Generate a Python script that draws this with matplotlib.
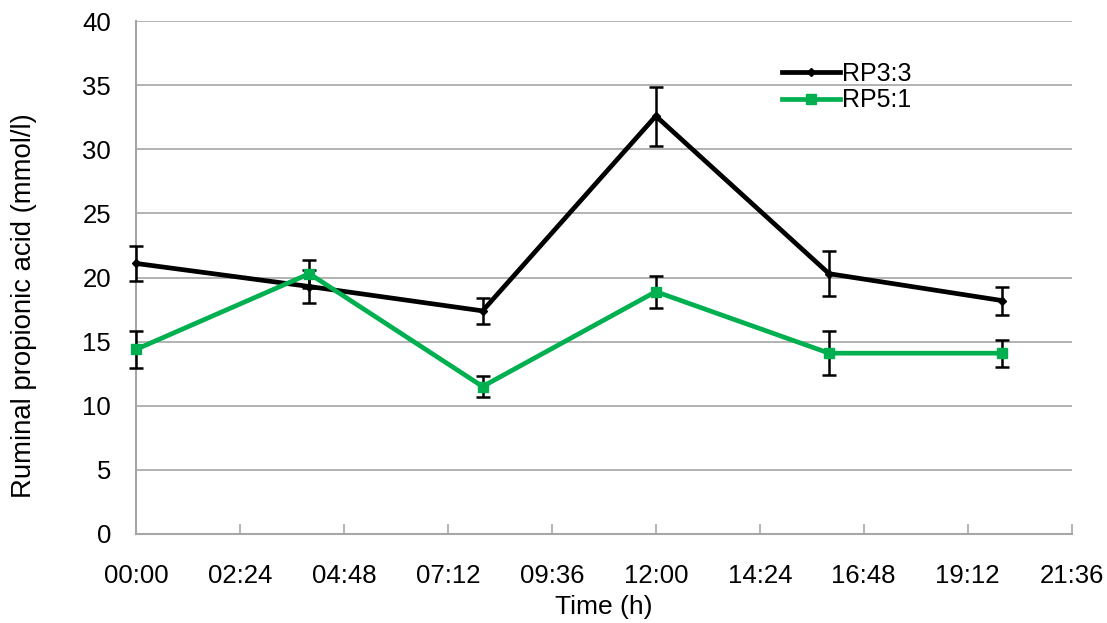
import matplotlib
matplotlib.use('Agg')
import matplotlib.pyplot as plt
from matplotlib.ticker import FixedLocator

plt.rcParams['font.family'] = ['Liberation Sans', 'DejaVu Sans']

# sampling time in hours
hours = [0, 4, 8, 12, 16, 20]
rp33 = [21.1, 19.3, 17.4, 32.6, 20.3, 18.2]
rp33_err = [1.4, 1.3, 1.0, 2.3, 1.75, 1.1]
rp51 = [14.4, 20.3, 11.5, 18.9, 14.1, 14.1]
rp51_err = [1.45, 1.1, 0.85, 1.25, 1.7, 1.05]

xticks = [0, 2.4, 4.8, 7.2, 9.6, 12.0, 14.4, 16.8, 19.2, 21.6]
xlabels = ['00:00', '02:24', '04:48', '07:12', '09:36', '12:00', '14:24', '16:48', '19:12', '21:36']
yticks = [0, 5, 10, 15, 20, 25, 30, 35, 40]

green = '#00B050'
grid_c = '#A6A6A6'

fig = plt.figure(figsize=(11.07, 6.23), dpi=100)
ax = fig.add_axes([0.123, 0.143, 0.845, 0.823])

eb1 = ax.errorbar(hours, rp33, yerr=rp33_err, color='black', lw=3.4, marker='D', ms=4,
                  ecolor='black', elinewidth=1.8, capsize=5, capthick=1.8, label='RP3:3', zorder=3)
eb2 = ax.errorbar(hours, rp51, yerr=rp51_err, color=green, lw=3.4, marker='s', ms=7,
                  ecolor='black', elinewidth=1.8, capsize=5, capthick=1.8, label='RP5:1', zorder=4)
for eb in (eb1, eb2):
    for art in eb.lines[1] + eb.lines[2]:
        art.set_clip_on(False)
    eb.lines[0].set_clip_on(False)

ax.set_xlim(0, 21.6)
ax.set_ylim(0, 40)
ax.xaxis.set_major_locator(FixedLocator(xticks))
ax.set_xticklabels(xlabels)
ax.set_yticks(yticks)
ax.yaxis.grid(True, color=grid_c, lw=1.2)
ax.set_axisbelow(True)

for s in ['top', 'right']:
    ax.spines[s].set_visible(False)
for s in ['left', 'bottom']:
    ax.spines[s].set_color(grid_c)
    ax.spines[s].set_linewidth(1.5)

ax.tick_params(axis='x', direction='in', length=7, color=grid_c, width=1.2,
               labelsize=18.5, pad=22)
ax.tick_params(axis='y', length=0, labelsize=18.5, pad=18)

ax.set_xlabel('Time (h)', fontsize=19, labelpad=5)
ax.set_ylabel('Ruminal propionic acid (mmol/l)', fontsize=19.8)
ax.yaxis.set_label_coords(-0.106, 0.446)

h, l = ax.get_legend_handles_labels()
h = [x[0] for x in h]
ax.legend(h, l, loc='upper left', bbox_to_anchor=(0.68, 0.94), frameon=False,
          fontsize=18, handlelength=2.3, handletextpad=0.1, labelspacing=0.1,
          borderaxespad=0)

fig.savefig('out.png', dpi=100)
